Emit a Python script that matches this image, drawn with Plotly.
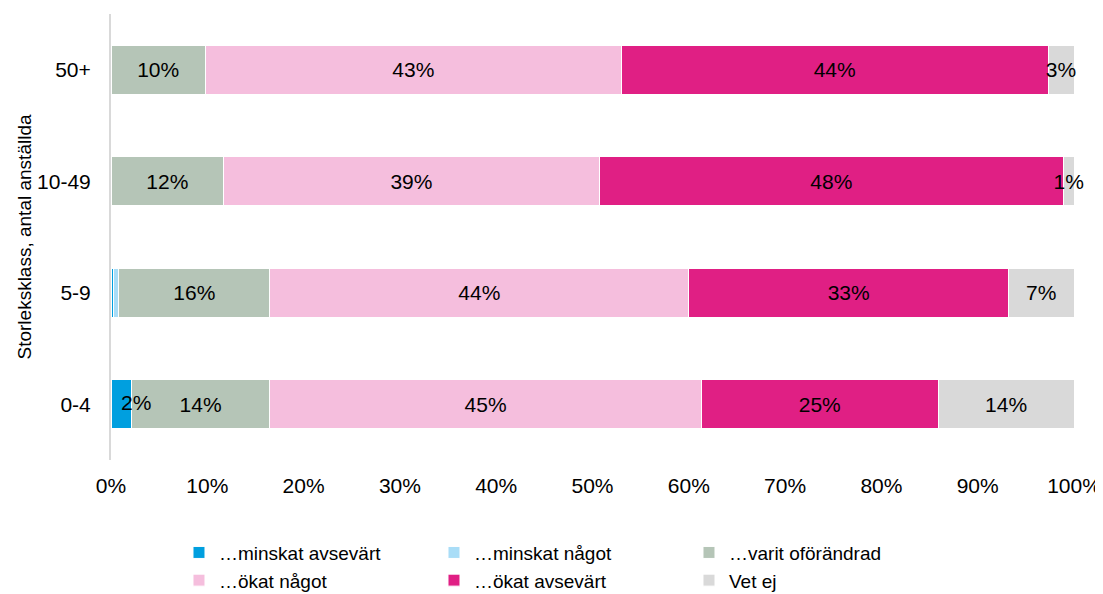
import plotly.graph_objects as go

categories = ["0-4", "5-9", "10-49", "50+"]
series_names = ["…minskat avsevärt", "…minskat något", "…varit oförändrad",
                "…ökat något", "…ökat avsevärt", "Vet ej"]
minskat_avsevart = [2.1, 0.3, 0.0, 0.0]
minskat_nagot = [0.0, 0.5, 0.0, 0.0]
varit_oforandrad = [14.4, 15.7, 11.7, 9.8]
okat_nagot = [44.8, 43.5, 39.0, 43.2]
okat_avsevart = [24.6, 33.2, 48.2, 44.3]
vet_ej = [14.1, 6.8, 1.1, 2.7]
colors = ["#009FDF", "#A9DDF7", "#B5C5B7", "#F5BEDD", "#E01F84", "#D9D9D9"]
x_ticks = [0, 10, 20, 30, 40, 50, 60, 70, 80, 90, 100]

series = [minskat_avsevart, minskat_nagot, varit_oforandrad, okat_nagot, okat_avsevart, vet_ej]

FONT = "Liberation Sans, Arial"
fig = go.Figure()
for i, (name, vals, col) in enumerate(zip(series_names, series, colors)):
    labels = [f"{round(v)}%" if round(v) >= 1 and i > 0 else "" for v in vals]
    fig.add_trace(go.Bar(
        y=categories, x=vals, name=name, orientation="h",
        marker=dict(color=col, line=dict(color="white", width=1)),
        text=labels, textposition="inside", insidetextanchor="middle",
        textangle=0, constraintext="none", cliponaxis=False,
        textfont=dict(family=FONT, size=21, color="#000000"),
        hoverinfo="skip",
    ))

# labels of the first (narrow) segment drawn on top so later segments don't cover them
first_idx = [k for k, v in enumerate(minskat_avsevart) if round(v) >= 1]
fig.add_trace(go.Scatter(
    x=[minskat_avsevart[k] / 2 for k in first_idx],
    y=[categories[k] for k in first_idx],
    text=[f"{round(minskat_avsevart[k])}%" for k in first_idx],
    mode="text", textposition="middle right", cliponaxis=False,
    textfont=dict(family=FONT, size=21, color="#000000"),
    showlegend=False, hoverinfo="skip",
))

fig.update_layout(
    barmode="stack",
    bargap=0.56,
    width=1095, height=610,
    margin=dict(l=103, r=29, t=6, b=158),
    paper_bgcolor="white", plot_bgcolor="white",
    font=dict(family=FONT, size=21, color="#000000"),
    xaxis=dict(range=[0, 100], tickvals=x_ticks, ticktext=[f"{t}%" for t in x_ticks],
               showgrid=False, zeroline=False, showline=False, automargin=False,
               ticks="outside", ticklen=7, tickcolor="rgba(0,0,0,0)",
               tickfont=dict(size=21)),
    yaxis=dict(showgrid=False, zeroline=False, showline=True, linecolor="#D9D9D9",
               linewidth=2, ticks="outside", ticklen=14, tickcolor="rgba(0,0,0,0)",
               tickfont=dict(size=21), automargin=False,
               title=dict(text="Storleksklass, antal anställda", font=dict(size=19),
                          standoff=0)),
    legend=dict(orientation="h", x=0.0706, xanchor="left", y=-0.165, yanchor="top",
                traceorder="normal", entrywidth=210, entrywidthmode="pixels",
                font=dict(size=19), itemclick=False, itemdoubleclick=False,
                tracegroupgap=0),
    showlegend=True,
)

fig.write_html("out.html")
